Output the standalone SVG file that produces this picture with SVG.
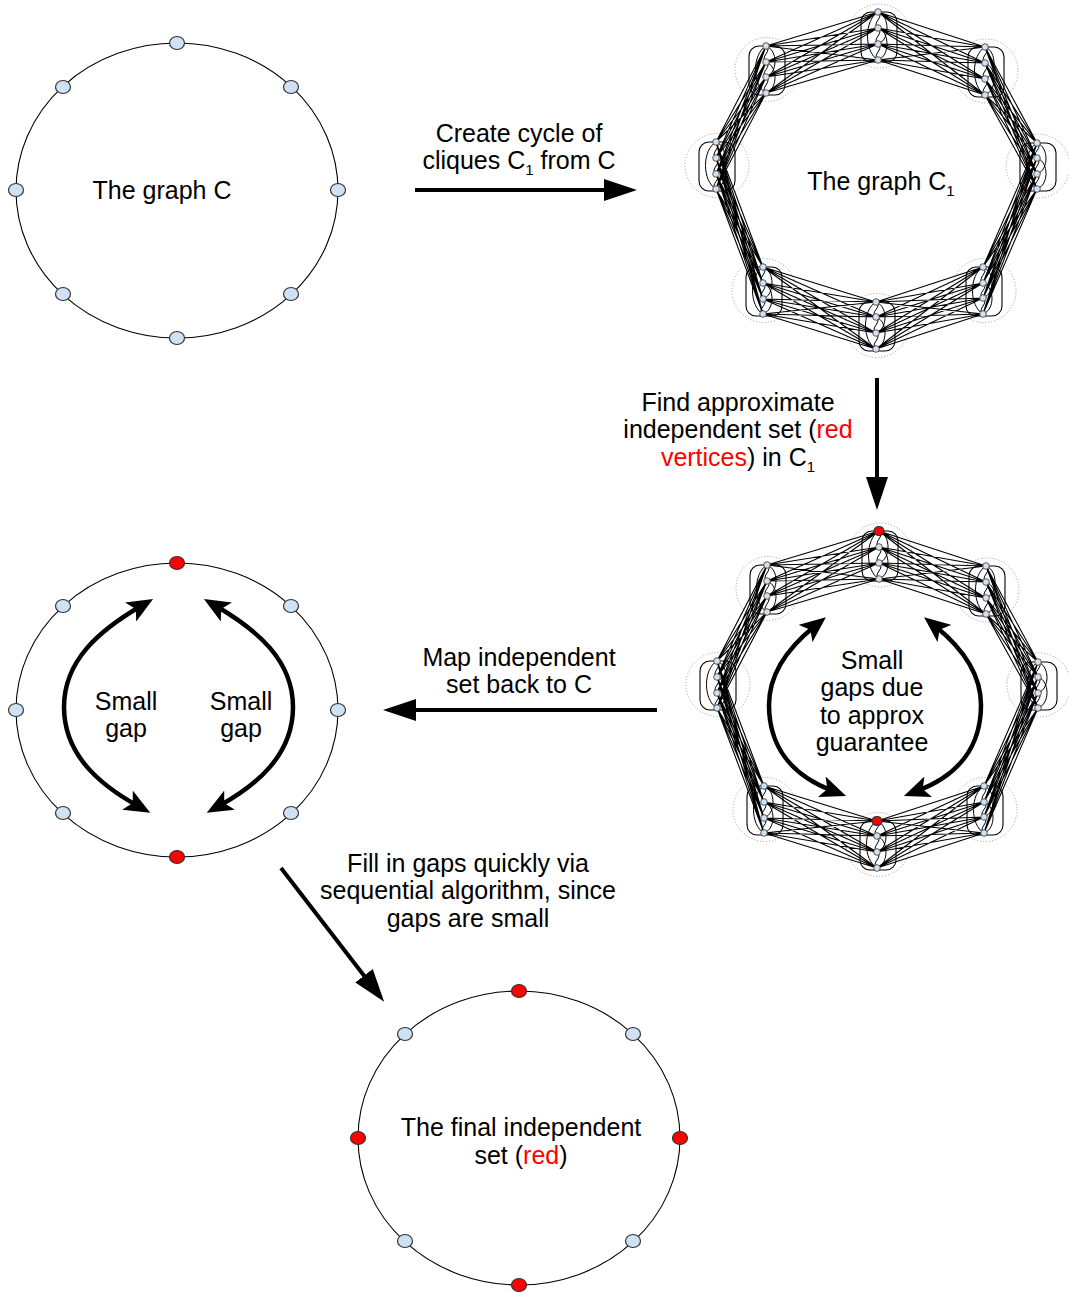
<svg xmlns="http://www.w3.org/2000/svg" width="1069" height="1293" viewBox="0 0 1069 1293">
<style>
text{font-family:"Liberation Sans",Arial,sans-serif;font-size:25px;fill:#000;text-anchor:middle}
.red{fill:#ff0000}
.sub{font-size:15px}
.ring{fill:none;stroke:#000;stroke-width:1.1}
.v{fill:#cfe2f3;stroke:#333;stroke-width:1.2}
.vr{fill:#ff0000;stroke:#333;stroke-width:1.2}
.cv{fill:#cfe2f3;stroke:#333;stroke-width:0.8}
.edges{fill:none;stroke:#000;stroke-width:1.1}
.intra{fill:none;stroke:#000;stroke-width:1}
.box{fill:none;stroke:#000;stroke-width:1.1}
.halo{fill:none;stroke:#999;stroke-width:1;stroke-dasharray:1 2}
.arrow{fill:none;stroke:#000;stroke-width:4}
.gap{fill:none;stroke:#000;stroke-width:4.5}
</style>
<defs>
<marker id="head" markerUnits="userSpaceOnUse" markerWidth="33" markerHeight="22" viewBox="0 0 33 22" refX="9" refY="11" orient="auto">
<path d="M0,0L33,11L0,22z" fill="#000"/>
</marker>
<marker id="ghead" markerUnits="userSpaceOnUse" markerWidth="26" markerHeight="22" viewBox="0 0 26 22" refX="12" refY="11" orient="auto-start-reverse">
<path d="M0,0L26,11L0,22L6,11z" fill="#000"/>
</marker>
<g id="cliques">
<g class="halo-set">
<circle class="halo" cx="879" cy="36" r="32"/>
<circle class="halo" cx="986" cy="71" r="32"/>
<circle class="halo" cx="1038" cy="166" r="32"/>
<circle class="halo" cx="984" cy="290.5" r="32"/>
<circle class="halo" cx="877" cy="325.5" r="32"/>
<circle class="halo" cx="764" cy="290.5" r="32"/>
<circle class="halo" cx="717" cy="165.5" r="32"/>
<circle class="halo" cx="767" cy="69.5" r="32"/>
</g>
<g>
<rect class="box" x="861" y="12" width="36" height="50" rx="10"/>
<rect class="box" x="968" y="47" width="36" height="50" rx="10"/>
<rect class="box" x="1020" y="143" width="36" height="48" rx="10"/>
<rect class="box" x="966" y="267" width="36" height="49" rx="10"/>
<rect class="box" x="859" y="302" width="36" height="49" rx="10"/>
<rect class="box" x="746" y="267" width="36" height="49" rx="10"/>
<rect class="box" x="699" y="142" width="36" height="49" rx="10"/>
<rect class="box" x="749" y="46" width="36" height="49" rx="10"/>
</g>
<path class="edges" d="
M878 12L985 47M878 12L985 63M878 12L985 79M878 12L985 95
M878 28L985 47M878 28L985 63M878 28L985 79M878 28L985 95
M878 44L985 47M878 44L985 63M878 44L985 79M878 44L985 95
M878 60L985 47M878 60L985 63M878 60L985 79M878 60L985 95
M985 47L1037 143M985 47L1037 158M985 47L1037 174M985 47L1037 189
M985 63L1037 143M985 63L1037 158M985 63L1037 174M985 63L1037 189
M985 79L1037 143M985 79L1037 158M985 79L1037 174M985 79L1037 189
M985 95L1037 143M985 95L1037 158M985 95L1037 174M985 95L1037 189
M1037 143L983 267M1037 143L983 283M1037 143L983 298M1037 143L983 314
M1037 158L983 267M1037 158L983 283M1037 158L983 298M1037 158L983 314
M1037 174L983 267M1037 174L983 283M1037 174L983 298M1037 174L983 314
M1037 189L983 267M1037 189L983 283M1037 189L983 298M1037 189L983 314
M983 267L876 302M983 267L876 317M983 267L876 333M983 267L876 349
M983 283L876 302M983 283L876 317M983 283L876 333M983 283L876 349
M983 298L876 302M983 298L876 317M983 298L876 333M983 298L876 349
M983 314L876 302M983 314L876 317M983 314L876 333M983 314L876 349
M876 302L763 267M876 302L763 283M876 302L763 299M876 302L763 314
M876 317L763 267M876 317L763 283M876 317L763 299M876 317L763 314
M876 333L763 267M876 333L763 283M876 333L763 299M876 333L763 314
M876 349L763 267M876 349L763 283M876 349L763 299M876 349L763 314
M763 267L716 142M763 267L716 158M763 267L716 174M763 267L716 189
M763 283L716 142M763 283L716 158M763 283L716 174M763 283L716 189
M763 299L716 142M763 299L716 158M763 299L716 174M763 299L716 189
M763 314L716 142M763 314L716 158M763 314L716 174M763 314L716 189
M716 142L766 46M716 142L766 62M716 142L766 77M716 142L766 93
M716 158L766 46M716 158L766 62M716 158L766 77M716 158L766 93
M716 174L766 46M716 174L766 62M716 174L766 77M716 174L766 93
M716 189L766 46M716 189L766 62M716 189L766 77M716 189L766 93
M766 46L878 12M766 46L878 28M766 46L878 44M766 46L878 60
M766 62L878 12M766 62L878 28M766 62L878 44M766 62L878 60
M766 77L878 12M766 77L878 28M766 77L878 44M766 77L878 60
M766 93L878 12M766 93L878 28M766 93L878 44M766 93L878 60"/>
<path class="intra" d="
M878 12C890 16 890 40 878 44M878 28C890 32 890 56 878 60M878 12C864 20 864 52 878 60M878 12C885 17 871 23 878 28M878 28C885 33 871 39 878 44M878 44C885 49 871 55 878 60
M985 47C997 51 997 75 985 79M985 63C997 67 997 91 985 95M985 47C971 55 971 87 985 95M985 47C992 52 978 58 985 63M985 63C992 68 978 74 985 79M985 79C992 84 978 90 985 95
M1037 143C1049 147 1049 170 1037 174M1037 158C1049 162 1049 185 1037 189M1037 143C1023 151 1023 181 1037 189M1037 143C1044 148 1030 153 1037 158M1037 158C1044 163 1030 169 1037 174M1037 174C1044 179 1030 184 1037 189
M983 267C995 271 995 294 983 298M983 283C995 287 995 310 983 314M983 267C969 275 969 306 983 314M983 267C990 272 976 278 983 283M983 283C990 288 976 293 983 298M983 298C990 303 976 309 983 314
M876 302C888 306 888 329 876 333M876 317C888 321 888 345 876 349M876 302C862 310 862 341 876 349M876 302C883 307 869 312 876 317M876 317C883 322 869 328 876 333M876 333C883 338 869 344 876 349
M763 267C775 271 775 295 763 299M763 283C775 287 775 310 763 314M763 267C749 275 749 306 763 314M763 267C770 272 756 278 763 283M763 283C770 288 756 294 763 299M763 299C770 304 756 309 763 314
M716 142C728 146 728 170 716 174M716 158C728 162 728 185 716 189M716 142C702 150 702 181 716 189M716 142C723 147 709 153 716 158M716 158C723 163 709 169 716 174M716 174C723 179 709 184 716 189
M766 46C778 50 778 73 766 77M766 62C778 66 778 89 766 93M766 46C752 54 752 85 766 93M766 46C773 51 759 57 766 62M766 62C773 67 759 72 766 77M766 77C773 82 759 88 766 93"/>
<g>
<circle class="cv" cx="878" cy="12" r="3.3"/><circle class="cv" cx="878" cy="28" r="3.3"/><circle class="cv" cx="878" cy="44" r="3.3"/><circle class="cv" cx="878" cy="60" r="3.3"/>
<circle class="cv" cx="985" cy="47" r="3.3"/><circle class="cv" cx="985" cy="63" r="3.3"/><circle class="cv" cx="985" cy="79" r="3.3"/><circle class="cv" cx="985" cy="95" r="3.3"/>
<circle class="cv" cx="1037" cy="143" r="3.3"/><circle class="cv" cx="1037" cy="158" r="3.3"/><circle class="cv" cx="1037" cy="174" r="3.3"/><circle class="cv" cx="1037" cy="189" r="3.3"/>
<circle class="cv" cx="983" cy="267" r="3.3"/><circle class="cv" cx="983" cy="283" r="3.3"/><circle class="cv" cx="983" cy="298" r="3.3"/><circle class="cv" cx="983" cy="314" r="3.3"/>
<circle class="cv" cx="876" cy="302" r="3.3"/><circle class="cv" cx="876" cy="317" r="3.3"/><circle class="cv" cx="876" cy="333" r="3.3"/><circle class="cv" cx="876" cy="349" r="3.3"/>
<circle class="cv" cx="763" cy="267" r="3.3"/><circle class="cv" cx="763" cy="283" r="3.3"/><circle class="cv" cx="763" cy="299" r="3.3"/><circle class="cv" cx="763" cy="314" r="3.3"/>
<circle class="cv" cx="716" cy="142" r="3.3"/><circle class="cv" cx="716" cy="158" r="3.3"/><circle class="cv" cx="716" cy="174" r="3.3"/><circle class="cv" cx="716" cy="189" r="3.3"/>
<circle class="cv" cx="766" cy="46" r="3.3"/><circle class="cv" cx="766" cy="62" r="3.3"/><circle class="cv" cx="766" cy="77" r="3.3"/><circle class="cv" cx="766" cy="93" r="3.3"/>
</g>
</g>
</defs>

<g id="graph-C">
<ellipse class="ring" cx="177" cy="190.5" rx="161" ry="147.5"/>
<ellipse class="v" cx="177" cy="43" rx="7.5" ry="6.5"/>
<ellipse class="v" cx="291" cy="87" rx="7.5" ry="6.5"/>
<ellipse class="v" cx="338" cy="190" rx="7.5" ry="6.5"/>
<ellipse class="v" cx="291" cy="294" rx="7.5" ry="6.5"/>
<ellipse class="v" cx="177" cy="338" rx="7.5" ry="6.5"/>
<ellipse class="v" cx="63" cy="294" rx="7.5" ry="6.5"/>
<ellipse class="v" cx="16" cy="190" rx="7.5" ry="6.5"/>
<ellipse class="v" cx="63" cy="87" rx="7.5" ry="6.5"/>
<text x="162" y="199">The graph C</text>
</g>

<g id="graph-C1">
<use href="#cliques"/>
<text x="881" y="190">The graph C<tspan class="sub" dy="6">1</tspan></text>
</g>

<g id="graph-C1-independent">
<use href="#cliques" transform="translate(1,519)"/>
<ellipse class="vr" cx="879" cy="531" rx="5" ry="4.5"/>
<ellipse class="vr" cx="877" cy="821" rx="5" ry="4.5"/>
<text x="872" y="669">Small</text>
<text x="872" y="696">gaps due</text>
<text x="872" y="724">to approx</text>
<text x="872" y="751">guarantee</text>
</g>

<g id="graph-C-mapped">
<ellipse class="ring" cx="177" cy="710" rx="161" ry="147"/>
<ellipse class="vr" cx="177" cy="563" rx="7.5" ry="6.5"/>
<ellipse class="v" cx="291" cy="606" rx="7.5" ry="6.5"/>
<ellipse class="v" cx="338" cy="710" rx="7.5" ry="6.5"/>
<ellipse class="v" cx="291" cy="813" rx="7.5" ry="6.5"/>
<ellipse class="vr" cx="177" cy="857" rx="7.5" ry="6.5"/>
<ellipse class="v" cx="63" cy="813" rx="7.5" ry="6.5"/>
<ellipse class="v" cx="16" cy="710" rx="7.5" ry="6.5"/>
<ellipse class="v" cx="63" cy="606" rx="7.5" ry="6.5"/>
<text x="126" y="710">Small</text>
<text x="126" y="737">gap</text>
<text x="241" y="710">Small</text>
<text x="241" y="737">gap</text>
</g>

<g id="graph-final">
<ellipse class="ring" cx="519" cy="1138" rx="161" ry="147"/>
<ellipse class="vr" cx="519" cy="991" rx="7.5" ry="6.5"/>
<ellipse class="v" cx="633" cy="1034" rx="7.5" ry="6.5"/>
<ellipse class="vr" cx="680" cy="1138" rx="7.5" ry="6.5"/>
<ellipse class="v" cx="633" cy="1241" rx="7.5" ry="6.5"/>
<ellipse class="vr" cx="519" cy="1285" rx="7.5" ry="6.5"/>
<ellipse class="v" cx="405" cy="1241" rx="7.5" ry="6.5"/>
<ellipse class="vr" cx="358" cy="1138" rx="7.5" ry="6.5"/>
<ellipse class="v" cx="405" cy="1034" rx="7.5" ry="6.5"/>
<text x="521" y="1136">The final independent</text>
<text x="521" y="1164">set (<tspan class="red">red</tspan>)</text>
</g>

<g id="gap-arrows">
<path class="gap" d="M141 606C100 630 64 660 64 707C64 755 100 785 138 806" marker-start="url(#ghead)" marker-end="url(#ghead)"/>
<path class="gap" d="M216 606C257 630 293 660 293 707C293 755 257 785 219 806" marker-start="url(#ghead)" marker-end="url(#ghead)"/>
<path class="gap" d="M815 626C785 650 769 675 769 705C769 745 790 775 833 791" marker-start="url(#ghead)" marker-end="url(#ghead)"/>
<path class="gap" d="M935 626C965 650 981 675 981 705C981 745 960 775 917 791" marker-start="url(#ghead)" marker-end="url(#ghead)"/>
</g>

<g id="connectors">
<g id="edge-create">
<path class="arrow" d="M415 190L613 190" marker-end="url(#head)"/>
<text x="519" y="142">Create cycle of</text>
<text x="519" y="169">cliques C<tspan class="sub" dy="6">1</tspan><tspan dy="-6"> from C</tspan></text>
</g>
<g id="edge-find">
<path class="arrow" d="M877 378L877 486" marker-end="url(#head)"/>
<text x="738" y="411">Find approximate</text>
<text x="738" y="438">independent set (<tspan class="red">red</tspan></text>
<text x="738" y="466"><tspan class="red">vertices</tspan>) in C<tspan class="sub" dy="6">1</tspan></text>
</g>
<g id="edge-map">
<path class="arrow" d="M657 710L407 710" marker-end="url(#head)"/>
<text x="519" y="666">Map independent</text>
<text x="519" y="693">set back to C</text>
</g>
<g id="edge-fill">
<path class="arrow" d="M281 868L369.5 982.8" marker-end="url(#head)"/>
<text x="468" y="872">Fill in gaps quickly via</text>
<text x="468" y="899">sequential algorithm, since</text>
<text x="468" y="927">gaps are small</text>
</g>
</g>
</svg>
